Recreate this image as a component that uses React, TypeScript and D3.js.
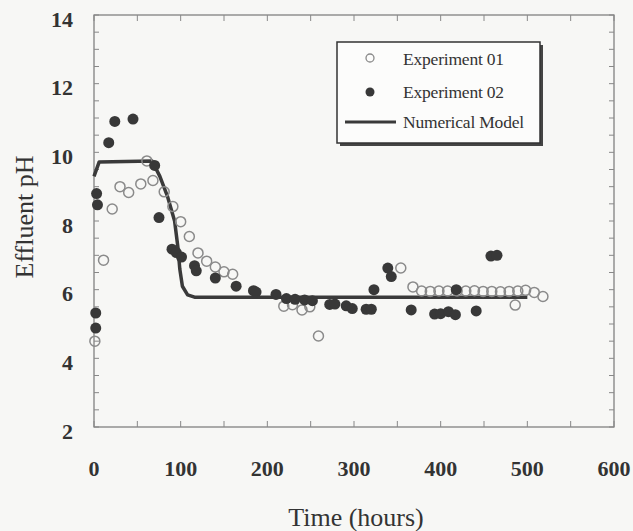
import React from 'react';
import * as d3 from 'd3';

// Experiment 01 (open circles): [time (h), pH]
const exp01: [number, number][] = [
  [1, 4.5], [11, 6.86], [21, 8.35], [30, 9.0], [40, 8.83], [54, 9.08], [61, 9.75], [68, 9.18],
  [81, 8.85], [91, 8.42], [100, 7.98], [110, 7.55], [120, 7.07], [130, 6.83], [140, 6.66],
  [150, 6.52], [160, 6.45], [219, 5.52], [229, 5.56], [240, 5.41], [249, 5.5], [259, 4.65],
  [354, 6.63], [368, 6.08], [378, 5.96], [388, 5.95], [398, 5.96], [408, 5.96], [419, 5.96],
  [429, 5.96], [439, 5.97], [449, 5.95], [459, 5.95], [469, 5.94], [479, 5.95], [486, 5.55],
  [489, 5.96], [498, 5.98], [508, 5.92], [518, 5.8],
];

// Experiment 02 (filled circles)
const exp02: [number, number][] = [
  [2, 5.32], [2, 4.88], [3, 8.8], [4, 8.47], [17, 10.28], [24, 10.9], [45, 10.97], [70, 9.62],
  [75, 8.1], [90, 7.18], [95, 7.08], [101, 6.95], [116, 6.7], [118, 6.55], [140, 6.34],
  [164, 6.1], [184, 5.97], [187, 5.93], [210, 5.86], [222, 5.74], [232, 5.72], [243, 5.7],
  [252, 5.68], [272, 5.57], [278, 5.58], [291, 5.53], [298, 5.45], [314, 5.43], [320, 5.43],
  [323, 6.0], [339, 6.63], [343, 6.38], [366, 5.41], [393, 5.29], [400, 5.3], [409, 5.36],
  [417, 5.27], [418, 6.0], [441, 5.38], [458, 6.98], [465, 7.0],
];

// Numerical model curve
const model: [number, number][] = [
  [0, 9.3], [6, 9.72], [67, 9.75], [76, 9.3], [85, 8.7], [93, 8.0], [97, 7.2], [99, 6.6],
  [102, 6.1], [108, 5.85], [116, 5.78], [500, 5.78],
];

const xTicks = [0, 100, 200, 300, 400, 500, 600];
const yTicks = [2, 4, 6, 8, 10, 12, 14];
const legendLabels = ['Experiment 01', 'Experiment 02', 'Numerical Model'];

const W = 633;
const H = 531;
const serif = '"Liberation Serif", "Times New Roman", serif';

export default function App() {
  const x = d3.scaleLinear().domain([0, 600]).range([94, 614]);
  const y = d3.scaleLinear().domain([2, 14]).range([427, 15]);
  const line = d3.line<[number, number]>().x(d => x(d[0])).y(d => y(d[1]));

  const xMinor = d3.range(0, 601, 50);
  const yMinor = d3.range(2, 14.01, 0.5);
  const [x0, x1] = x.range();
  const [yb, yt] = y.range();

  return (
    <svg width={W} height={H} style={{ position: 'absolute', left: 0, top: 0, background: '#f7f7f5' }}>
      {/* frame */}
      <rect x={x0} y={yt} width={x1 - x0} height={yb - yt} fill="none" stroke="#777" strokeWidth={1.2} />
      {xMinor.map(t => (
        <g key={'xt' + t} stroke="#888" strokeWidth={1}>
          <line x1={x(t)} x2={x(t)} y1={yb} y2={yb - 6} />
          <line x1={x(t)} x2={x(t)} y1={yt} y2={yt + 6} />
        </g>
      ))}
      {yMinor.map(t => (
        <g key={'yt' + t} stroke="#888" strokeWidth={1}>
          <line x1={x0} x2={x0 + 5} y1={y(t)} y2={y(t)} />
          <line x1={x1} x2={x1 - 5} y1={y(t)} y2={y(t)} />
        </g>
      ))}

      {/* tick labels */}
      {xTicks.map(t => (
        <text key={'xl' + t} x={x(t)} y={476} textAnchor="middle" fontFamily={serif}
          fontWeight="bold" fontSize={22} fill="#333">{t}</text>
      ))}
      {yTicks.map(t => (
        <text key={'yl' + t} x={73} y={y(t) + 4} textAnchor="end" dominantBaseline="central"
          fontFamily={serif} fontWeight="bold" fontSize={22} fill="#333">{t}</text>
      ))}

      {/* axis titles */}
      <text x={356} y={526} textAnchor="middle" fontFamily={serif} fontSize={26} fill="#333">Time (hours)</text>
      <text transform={`translate(33,217) rotate(-90)`} textAnchor="middle" fontFamily={serif}
        fontSize={26} fill="#333">Effluent pH</text>

      {/* model line */}
      <path d={line(model) || ''} fill="none" stroke="#3a3a3a" strokeWidth={3.5} strokeLinejoin="round" />

      {/* experiment 01 */}
      {exp01.map((d, i) => (
        <circle key={'a' + i} cx={x(d[0])} cy={y(d[1])} r={5} fill="none" stroke="#8a8a8a" strokeWidth={1.5} />
      ))}
      {/* experiment 02 */}
      {exp02.map((d, i) => (
        <circle key={'b' + i} cx={x(d[0])} cy={y(d[1])} r={5.5} fill="#383838" />
      ))}

      {/* legend */}
      <rect x={340} y={45} width={203} height={101} fill="#444" />
      <rect x={337} y={42} width={203} height={101} fill="#fcfcfb" stroke="#333" strokeWidth={1.5} />
      <circle cx={370} cy={58} r={4} fill="none" stroke="#8a8a8a" strokeWidth={1.3} />
      <circle cx={370} cy={92} r={4.5} fill="#383838" />
      <line x1={345} x2={396} y1={122} y2={122} stroke="#3a3a3a" strokeWidth={3} />
      {legendLabels.map((l, i) => (
        <text key={l} x={403} y={[64.5, 98, 128][i]} fontFamily={serif} fontSize={17.5}
          letterSpacing={-0.2} fill="#333">{l}</text>
      ))}
    </svg>
  );
}
